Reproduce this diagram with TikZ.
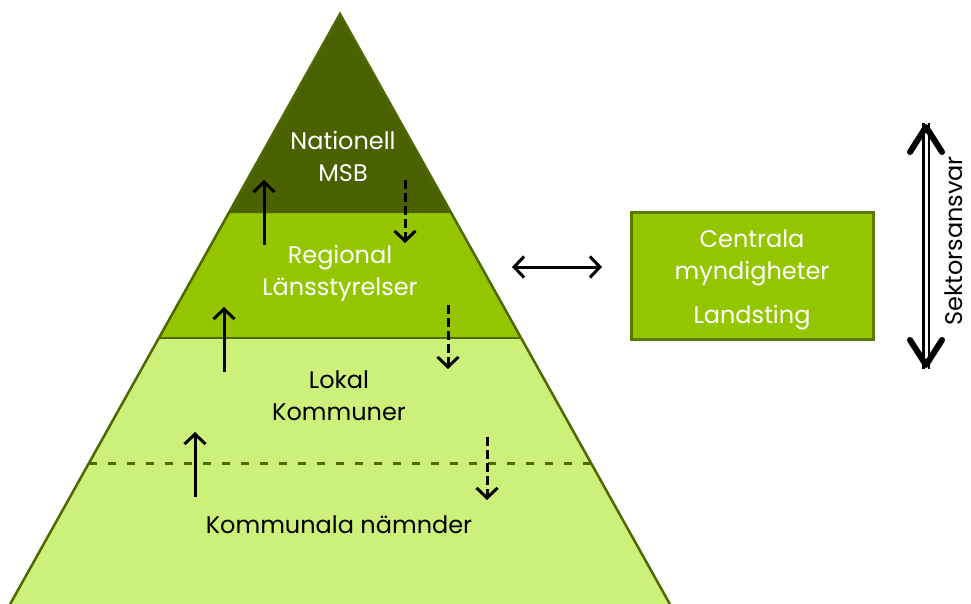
\documentclass[tikz,border=0pt]{standalone}
\usepackage{fontspec}
\setmainfont{Poppins}
\usetikzlibrary{arrows.meta}
\definecolor{darkol}{RGB}{74,97,0}
\definecolor{midgr}{RGB}{148,198,0}
\definecolor{ltgr}{RGB}{204,241,122}
\definecolor{edgecol}{RGB}{79,104,0}
\definecolor{boxedge}{RGB}{92,122,0}
\tikzset{
  lbl/.style={align=center, inner sep=0pt, font=\fontsize{24}{32}\selectfont},
  uparrow/.style={line width=3pt, -{Straight Barb[length=10pt,width=21pt]}},
  downarrow/.style={line width=3pt, dash pattern=on 9pt off 4pt, -{Straight Barb[length=10pt,width=21pt]}},
  bothway/.style={line width=3pt, {Straight Barb[length=10pt,width=21pt]}-{Straight Barb[length=10pt,width=21pt]}},
  pyredge/.style={edgecol, line width=2.5pt}
}
\begin{document}
\begin{tikzpicture}[x=1pt,y=-1pt]
\useasboundingbox (0,0) rectangle (971,604);
\begin{scope}
\clip (0,0) rectangle (971,604);
\coordinate (apex) at (340,14);
\coordinate (t1l) at (229,213);
\coordinate (t1r) at (451,213);
\coordinate (t2l) at (159,338);
\coordinate (t2r) at (521,338);
\coordinate (bl) at (-1,624);
\coordinate (br) at (681,624);
\fill[ltgr] (t2l) -- (t2r) -- (br) -- (bl) -- cycle;
\fill[midgr] (t1l) -- (t1r) -- (t2r) -- (t2l) -- cycle;
\fill[darkol] (apex) -- (t1r) -- (t1l) -- cycle;
\draw[pyredge] (t2l) -- (t2r);
\draw[pyredge, line join=miter] (bl) -- (apex) -- (br);
\coordinate (dl) at (89,463);
\coordinate (dr) at (591,463);
\draw[edgecol, line width=3pt, dash pattern=on 8pt off 11pt] (dl) -- (dr);
\end{scope}

\node[lbl, text=white] (nat) at (343,156) {Nationell\\MSB};
\node[lbl, text=white] (reg) at (340,273) {Regional\\Länsstyrelser};
\node[lbl, text=black] (lok) at (339,396) {Lokal\\Kommuner};
\node[lbl, text=black] (kn) at (339,525) {Kommunala nämnder};

% vertical arrows between tiers
\coordinate (a1s) at (264,245); \coordinate (a1e) at (264,180);
\coordinate (b1s) at (405,180); \coordinate (b1e) at (405,243);
\coordinate (a2s) at (224,372); \coordinate (a2e) at (224,307);
\coordinate (b2s) at (448,305); \coordinate (b2e) at (448,369);
\coordinate (a3s) at (195,497); \coordinate (a3e) at (195,432);
\coordinate (b3s) at (487,437); \coordinate (b3e) at (487,500);
\draw[uparrow] (a1s) -- (a1e);
\draw[downarrow] (b1s) -- (b1e);
\draw[uparrow] (a2s) -- (a2e);
\draw[downarrow] (b2s) -- (b2e);
\draw[uparrow] (a3s) -- (a3e);
\draw[downarrow] (b3s) -- (b3e);

% box
\node[draw=boxedge, fill=midgr, line width=3pt, minimum width=242pt, minimum height=127pt, inner sep=0pt] (box) at (752,275.5) {};
\node[lbl, text=white] (cm) at (752,258) {Centrala\\myndigheter};
\node[lbl, text=white] (ls) at (752,318) {Landsting};

% horizontal double arrow
\coordinate (h1) at (512,267);
\coordinate (h2) at (602,267);
\draw[bothway] (h1) -- (h2);

% Sektorsansvar arrow
\coordinate (st) at (926,127);
\coordinate (sb) at (926,365);
\draw[line width=2.2pt, double=white, double distance=3pt] ([yshift=4pt]st) -- ([yshift=-4pt]sb);
\draw[line width=6pt, line cap=round, line join=round] (910,152) -- (st) -- (942,152);
\draw[line width=6pt, line cap=round, line join=round] (910,340) -- (sb) -- (942,340);
\node[lbl, rotate=90, text=black] (sek) at (954,241) {Sektorsansvar};
\end{tikzpicture}
\end{document}
